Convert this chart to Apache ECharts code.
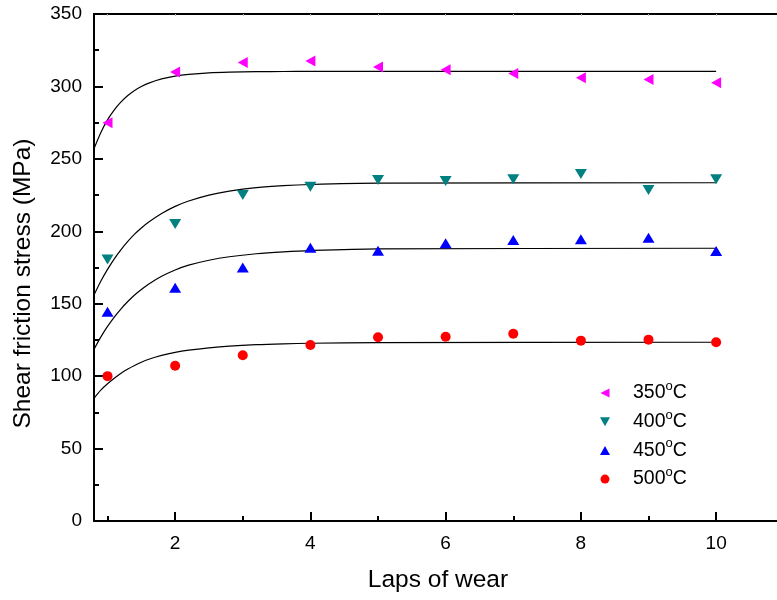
<!DOCTYPE html>
<html>
<head>
<meta charset="utf-8">
<script src="https://cdn.jsdelivr.net/npm/echarts@6/dist/echarts.min.js"></script>
<style>html,body{margin:0;padding:0;background:#fff;}#c{width:777px;height:600px;}</style>
</head>
<body>
<div id="c"></div>
<script>
const laps = [1, 2, 3, 4, 5, 6, 7, 8, 9, 10];
const s350 = [275.0, 310.0, 316.6, 317.5, 313.4, 311.6, 309.0, 306.0, 304.7, 302.6];
const s400 = [180.6, 205.0, 225.0, 230.8, 235.4, 234.7, 235.9, 239.5, 228.5, 235.9];
const s450 = [144.5, 161.0, 175.0, 188.7, 186.6, 191.7, 194.0, 194.5, 195.6, 186.4];
const s500 = [100.0, 107.2, 114.4, 121.5, 126.8, 127.2, 129.3, 124.5, 125.2, 123.4];

const fitX   = [0.8, 0.9, 1.0, 1.1, 1.2, 1.3, 1.4, 1.5, 1.6, 1.8, 2.0, 2.2, 2.5, 2.8, 3.2, 3.6, 4.0, 5.0, 10.0];
const fit350 = [257.0, 268.1, 276.9, 283.8, 289.3, 293.7, 297.2, 299.9, 302.1, 305.2, 307.1, 308.3, 309.4, 309.9, 310.2, 310.3, 310.4, 310.4, 310.4];
const fit400 = [156.0, 165.5, 173.7, 181.0, 187.4, 193.0, 198.0, 202.3, 206.1, 212.3, 217.2, 220.9, 225.0, 227.7, 230.1, 231.5, 232.3, 233.2, 233.5];
const fit450 = [118.5, 126.9, 134.3, 140.8, 146.5, 151.5, 156.0, 159.8, 163.3, 168.9, 173.3, 176.6, 180.0, 182.4, 184.5, 185.8, 186.7, 187.8, 188.3];
const fit500 = [84.7, 90.3, 94.7, 98.5, 102.0, 104.9, 107.4, 109.6, 111.5, 114.3, 116.4, 117.9, 119.5, 120.7, 121.7, 122.3, 122.7, 123.2, 123.4];

const seriesNames = ['350', '400', '450', '500'];
const xMajor = [2, 4, 6, 8, 10];
const xMinor = [1, 3, 5, 7, 9];
const xTop = [1, 2, 3, 4, 5, 6, 7, 8, 9, 10];

const FONT = 'Liberation Sans, Arial, sans-serif';
const pair = (xs, ys) => xs.map((x, i) => [x, ys[i]]);

const chart = echarts.init(document.getElementById('c'), null, {renderer: 'canvas'});

const scatter = (name, data, symbol, color, size) => ({
  name: name, type: 'scatter', xAxisIndex: 0, yAxisIndex: 0,
  data: pair(laps, data), symbol: symbol, symbolSize: size,
  itemStyle: {color: color, opacity: 1}, z: 5
});
const fit = (ys) => ({
  type: 'line', xAxisIndex: 0, yAxisIndex: 0, data: pair(fitX, ys),
  smooth: 0.3, symbol: 'none',
  lineStyle: {color: '#000', width: 1.2}, z: 3, silent: true
});

const LEFT_TRI = 'path://M0,5 L10,0 L10,10 Z';
const DOWN_TRI = 'path://M0,0 L10,0 L5,9 Z';
const UP_TRI = 'path://M5,0 L10,9 L0,9 Z';

chart.setOption({
  animation: false,
  backgroundColor: '#fff',
  grid: {left: 94, top: 14, right: 0, bottom: 79, containLabel: false},
  legend: {
    data: seriesNames,
    orient: 'vertical', left: 595, top: 375,
    itemWidth: 46, itemHeight: 9, itemGap: 5.7,
    formatter: n => '{a|' + n + '}{s|o}{a|C}',
    textStyle: {
      color: '#000', fontFamily: FONT, fontSize: 19.5,
      rich: {
        a: {fontFamily: FONT, fontSize: 19.5, color: '#000'},
        s: {fontFamily: FONT, fontSize: 13, color: '#000', padding: [0, 0, 13, 0]}
      }
    }
  },
  xAxis: [
    {
      type: 'value', min: 0.8, max: 10.9, position: 'bottom',
      name: 'Laps of wear', nameLocation: 'middle', nameGap: 47,
      nameTextStyle: {fontFamily: FONT, fontSize: 24.5, color: '#000', padding: [0, 0, 0, 5]},
      axisLine: {show: true, onZero: false, lineStyle: {color: '#000', width: 2}},
      axisTick: {show: true, inside: true, length: 9, customValues: xMajor, lineStyle: {color: '#000', width: 2}},
      axisLabel: {show: true, customValues: xMajor, margin: 13, fontFamily: FONT, fontSize: 19, color: '#000'},
      splitLine: {show: false}
    },
    {
      type: 'value', min: 0.8, max: 10.9, position: 'bottom',
      axisLine: {show: false, onZero: false},
      axisTick: {show: true, inside: true, length: 5, customValues: xMinor, lineStyle: {color: '#000', width: 2}},
      axisLabel: {show: false},
      splitLine: {show: false}
    },
    {
      type: 'value', min: 0.8, max: 10.9, position: 'top',
      axisLine: {show: true, onZero: false, lineStyle: {color: '#000', width: 2}},
      axisTick: {show: true, inside: true, length: 2, customValues: xTop, lineStyle: {color: '#bbb', width: 1}},
      axisLabel: {show: false},
      splitLine: {show: false}
    }
  ],
  yAxis: [
    {
      type: 'value', min: 0, max: 350, interval: 50, position: 'left',
      name: 'Shear friction stress (MPa)', nameLocation: 'middle', nameGap: 58,
      nameTextStyle: {fontFamily: FONT, fontSize: 24.5, color: '#000', padding: [0, 32, 0, 0]},
      axisLine: {show: true, onZero: false, lineStyle: {color: '#000', width: 2}},
      axisTick: {show: true, inside: true, length: 9, lineStyle: {color: '#000', width: 2}},
      minorTick: {show: true, splitNumber: 2, length: 5, lineStyle: {color: '#000', width: 2}},
      axisLabel: {margin: 12, fontFamily: FONT, fontSize: 19, color: '#000'},
      splitLine: {show: false}
    }
  ],
  series: [
    fit(fit350), fit(fit400), fit(fit450), fit(fit500),
    scatter('350', s350, LEFT_TRI, '#ff00ff', [10, 11]),
    scatter('400', s400, DOWN_TRI, '#008080', [12, 10]),
    scatter('450', s450, UP_TRI, '#0000ff', [12, 10]),
    scatter('500', s500, 'circle', '#ff0000', 10)
  ]
});
</script>
</body>
</html>
